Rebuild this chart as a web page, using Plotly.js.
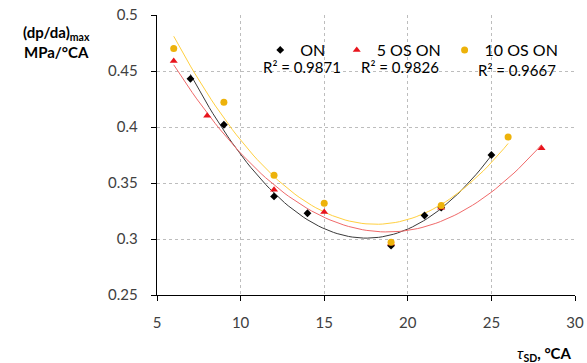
<!DOCTYPE html>
<html><head><meta charset="utf-8">
<script src="https://cdn.plot.ly/plotly-3.0.1.min.js"></script>
<style>html,body{margin:0;padding:0;background:#fff}#chart{width:587px;height:363px}</style>
</head><body><div id="chart"></div>
<script>
const seriesNames = ["ON", "5 OS ON", "10 OS ON"];
const r2Labels = ["R² = 0.9871", "R² = 0.9826", "R² = 0.9667"];
const onX = [7, 9, 12, 14, 19, 21, 22, 25];
const onY = [0.443, 0.402, 0.338, 0.323, 0.294, 0.321, 0.328, 0.375];
const os5X = [6, 8, 12, 15, 19, 22, 28];
const os5Y = [0.459, 0.410, 0.344, 0.324, 0.296, 0.328, 0.381];
const os10X = [6, 9, 12, 15, 19, 22, 26];
const os10Y = [0.470, 0.422, 0.357, 0.332, 0.297, 0.330, 0.391];
const xTicks = [5, 10, 15, 20, 25, 30];
const yTicks = [0.25, 0.3, 0.35, 0.4, 0.45, 0.5];

const markerColors = ["#000000", "#E8141C", "#EDB20A"];
const lineColors = ["#3a3a3a", "#F06A6A", "#FFD040"];
const symbols = ["diamond", "triangle-up", "circle"];
const markerSizes = [6, 7, 7];

function quadFit(xs, ys) {
  let S = [0,0,0,0,0], T = [0,0,0];
  for (let i = 0; i < xs.length; i++) {
    let p = 1;
    for (let k = 0; k < 5; k++) { S[k] += p; if (k < 3) T[k] += p * ys[i]; p *= xs[i]; }
  }
  const A = [[S[0],S[1],S[2],T[0]],[S[1],S[2],S[3],T[1]],[S[2],S[3],S[4],T[2]]];
  for (let i = 0; i < 3; i++) {
    for (let j = i+1; j < 3; j++) {
      const f = A[j][i] / A[i][i];
      for (let k = i; k < 4; k++) A[j][k] -= f * A[i][k];
    }
  }
  const c = [0,0,0];
  for (let i = 2; i >= 0; i--) {
    let s = A[i][3];
    for (let k = i+1; k < 3; k++) s -= A[i][k] * c[k];
    c[i] = s / A[i][i];
  }
  return c;
}

const data = [];
const sets = [[onX, onY], [os5X, os5Y], [os10X, os10Y]];
sets.forEach((s, i) => {
  const c = quadFit(s[0], s[1]);
  const x0 = Math.min(...s[0]), x1 = Math.max(...s[0]);
  const lx = [], ly = [];
  for (let k = 0; k <= 80; k++) {
    const x = x0 + (x1 - x0) * k / 80;
    lx.push(x); ly.push(c[0] + c[1]*x + c[2]*x*x);
  }
  data.push({x: lx, y: ly, mode: "lines", line: {color: lineColors[i], width: 1}, showlegend: false, hoverinfo: "skip"});
});
sets.forEach((s, i) => {
  data.push({x: s[0], y: s[1], mode: "markers", name: seriesNames[i],
    marker: {symbol: symbols[i], color: markerColors[i], size: markerSizes[i]},
    legend: i === 0 ? "legend" : ("legend" + (i + 1))});
});

const legBase = {orientation: "h", bgcolor: "rgba(0,0,0,0)", font: {family: "Lato, sans-serif", size: 16, color: "#000"}, yanchor: "middle", xanchor: "left", itemwidth: 30};
const annFont = {family: "Lato, sans-serif", size: 15, color: "#000"};
const layout = {
  width: 587, height: 363,
  margin: {l: 157, r: 12, t: 15, b: 68},
  paper_bgcolor: "#fff", plot_bgcolor: "#fff",
  font: {family: "Lato, sans-serif", color: "#404040"},
  xaxis: {range: [5, 30], tickvals: xTicks, ticktext: xTicks.map(String), showgrid: true, gridcolor: "#bdbdbd", griddash: "dot", gridwidth: 1,
    showline: true, linecolor: "#000", linewidth: 1.3, ticks: "outside", ticklen: 5, tickcolor: "#000", ticklabelstandoff: 9, tickfont: {size: 15, color: "#404040"}, zeroline: false, fixedrange: true},
  yaxis: {range: [0.25, 0.5], tickvals: yTicks, ticktext: yTicks.map(v => String(v)), showgrid: true, gridcolor: "#bdbdbd", griddash: "dot", gridwidth: 1,
    showline: true, linecolor: "#000", linewidth: 1.3, ticks: "outside", ticklen: 5, tickcolor: "#000", ticklabelstandoff: 10, tickfont: {size: 15, color: "#404040"}, zeroline: false, fixedrange: true},
  legend: Object.assign({}, legBase, {x: 0.247, y: 0.875}),
  legend2: Object.assign({}, legBase, {x: 0.43, y: 0.875}),
  legend3: Object.assign({}, legBase, {x: 0.688, y: 0.875}),
  annotations: [
    {xref: "paper", yref: "paper", x: 0.347, y: 0.814, xanchor: "center", yanchor: "middle", text: r2Labels[0], showarrow: false, font: annFont},
    {xref: "paper", yref: "paper", x: 0.581, y: 0.814, xanchor: "center", yanchor: "middle", text: r2Labels[1], showarrow: false, font: annFont},
    {xref: "paper", yref: "paper", x: 0.861, y: 0.804, xanchor: "center", yanchor: "middle", text: r2Labels[2], showarrow: false, font: annFont},
    {xref: "paper", yref: "paper", x: -0.2416, y: 0.904, xanchor: "center", yanchor: "middle", text: "<b>(dp/da)</b><sub><b>max</b></sub><br><b>MPa/°CA</b>", showarrow: false, font: {family: "Lato, sans-serif", size: 15, color: "#000"}},
    {xref: "paper", yref: "paper", x: 0.928, y: -0.21, xanchor: "center", yanchor: "middle", text: "<i>τ</i><sub><b>SD</b></sub><b>, °CA</b>", showarrow: false, font: {family: "Lato, sans-serif", size: 15, color: "#000"}}
  ]
};
Plotly.newPlot("chart", data, layout, {displayModeBar: false, staticPlot: true});
</script></body></html>
